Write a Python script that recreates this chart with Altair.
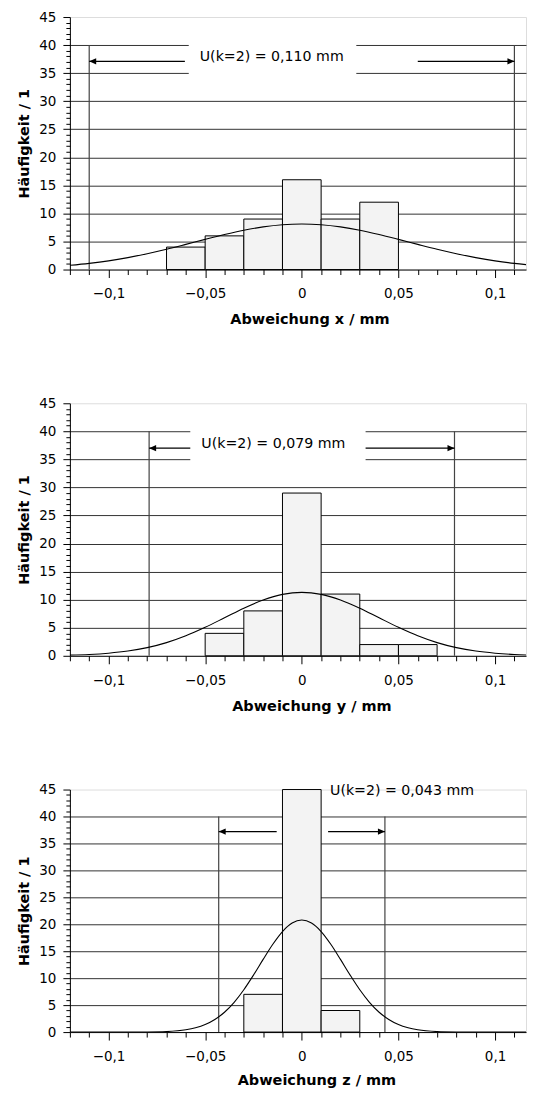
import altair as alt
import pandas as pd

# ---- data ----
bin_lo = [-0.07, -0.05, -0.03, -0.01, 0.01, 0.03, 0.05]
bin_hi = [-0.05, -0.03, -0.01, 0.01, 0.03, 0.05, 0.07]
counts_x = [4, 6, 9, 16, 9, 12, 0]
counts_y = [0, 4, 8, 29, 11, 2, 2]
counts_z = [0, 0, 7, 45, 4, 0, 0]

curve_pos = [-0.12, -0.11, -0.10, -0.09, -0.08, -0.07, -0.06, -0.05, -0.04, -0.03, -0.02, -0.01, 0.0,
             0.01, 0.02, 0.03, 0.04, 0.05, 0.06, 0.07, 0.08, 0.09, 0.10, 0.11, 0.12]
curve_x_vals = [0.75, 1.10, 1.55, 2.13, 2.82, 3.61, 4.48, 5.37, 6.23, 7.00, 7.60, 7.99, 8.12,
                7.99, 7.60, 7.00, 6.23, 5.37, 4.48, 3.61, 2.82, 2.13, 1.55, 1.10, 0.75]
curve_y_vals = [0.11, 0.23, 0.46, 0.84, 1.45, 2.35, 3.57, 5.08, 6.77, 8.48, 9.95, 10.95, 11.31,
                10.95, 9.95, 8.48, 6.77, 5.08, 3.57, 2.35, 1.45, 0.84, 0.46, 0.23, 0.11]
curve_z_pos = [-0.12, -0.11, -0.10, -0.09, -0.08, -0.07, -0.06, -0.055, -0.05, -0.045, -0.04, -0.035,
               -0.03, -0.025, -0.02, -0.015, -0.01, -0.005, 0.0, 0.005, 0.01, 0.015, 0.02, 0.025,
               0.03, 0.035, 0.04, 0.045, 0.05, 0.055, 0.06, 0.07, 0.08, 0.09, 0.10, 0.11, 0.12]
curve_z_vals = [0, 0, 0, 0, 0.02, 0.10, 0.42, 0.79, 1.39, 2.33, 3.68, 5.52, 7.85, 10.57, 13.48, 16.29,
                18.65, 20.22, 20.78, 20.22, 18.65, 16.29, 13.48, 10.57, 7.85, 5.52, 3.68, 2.33, 1.39,
                0.79, 0.42, 0.10, 0.02, 0, 0, 0, 0]

u_values = [0.110, 0.079, 0.043]
u_labels = ["U(k=2) = 0,110 mm", "U(k=2) = 0,079 mm", "U(k=2) = 0,043 mm"]
x_titles = ["Abweichung x / mm", "Abweichung y / mm", "Abweichung z / mm"]
y_title = "Häufigkeit / 1"

arrow_inner_left = [-0.0605, -0.0577, -0.013]
arrow_inner_right = [0.060, 0.033, 0.0136]
arrow_level = [37.1, 37.0, 37.2]
box_left = [-0.0585, -0.0577, None]
box_right = [0.0282, 0.033, None]
text_x = [-0.0528, -0.052, 0.0146]
text_y = [37.9, 37.7, 44.8]

x_ticks = [round(-0.12 + 0.01 * i, 2) for i in range(24)]
y_ticks = list(range(46))

FONT = "DejaVu Sans"
GRID = "#333333"
W = 457


def panel(i, counts, cpos, cvals, height, title_x, title_pad):
    xscale = alt.Scale(domain=[-0.12, 0.116], nice=False, zero=False)
    yscale = alt.Scale(domain=[0, 45], nice=False)
    xaxis = alt.Axis(
        values=x_ticks, grid=False, domainColor="black", tickColor="black",
        tickSize={"condition": {"test": "round(datum.value*100) % 5 == 0", "value": 8}, "value": 5},
        labelExpr="round(datum.value*100) % 5 == 0 ? replace(format(datum.value, '.2~f'), '.', ',') : ''",
        labelOverlap=False, labelFlush=False, labelFont=FONT, labelFontSize=13.5,
        labelColor="black", labelPadding=9.5, titleFont=FONT, titleFontSize=14.5,
        titleFontWeight="bold", titleColor="black", titlePadding=title_pad,
        titleX=title_x, titleAlign="center",
    )
    yaxis = alt.Axis(
        values=y_ticks, domainColor="black", tickColor="black",
        tickSize={"condition": {"test": "datum.value % 5 == 0", "value": 7}, "value": 4},
        labelExpr="datum.value % 5 == 0 ? datum.label : ''",
        labelOverlap=False, labelFont=FONT, labelFontSize=13.5, labelColor="black",
        labelPadding=7, grid=True, gridColor=GRID, gridWidth=1,
        gridOpacity={"condition": {"test": "datum.value % 5 == 0 && datum.value > 0 && datum.value < 45",
                                   "value": 1}, "value": 0},
        titleFont=FONT, titleFontSize=14.5, titleFontWeight="bold", titleColor="black",
        titlePadding=7,
    )

    def X(f):
        return alt.X(f, type="quantitative", scale=xscale, axis=xaxis, title=x_titles[i])

    def Y(f):
        return alt.Y(f, type="quantitative", scale=yscale, axis=yaxis, title=y_title)

    bars = pd.DataFrame({"lo": bin_lo, "hi": bin_hi, "n": counts})
    bars = bars[bars["n"] > 0]
    curve = pd.DataFrame({"x": cpos, "y": cvals})
    u = u_values[i]
    vl = pd.DataFrame({"x": [-u, u], "y0": [0, 0], "y1": [40, 40]})
    arr = pd.DataFrame({"a": [-u, arrow_inner_right[i]], "b": [arrow_inner_left[i], u],
                        "y": [arrow_level[i]] * 2})
    head_l = pd.DataFrame({"x": [-u], "y": [arrow_level[i]]})
    head_r = pd.DataFrame({"x": [u], "y": [arrow_level[i]]})
    txt = pd.DataFrame({"x": [text_x[i]], "y": [text_y[i]], "t": [u_labels[i]]})

    layers = []
    if box_left[i] is not None:
        box = pd.DataFrame({"a": [box_left[i]], "b": [box_right[i]], "y0": [33.2], "y1": [41.5]})
        layers.append(alt.Chart(box).mark_rect(color="white").encode(
            x=X("a"), x2="b", y=Y("y0"), y2="y1"))
    layers += [
        alt.Chart(vl).mark_rule(color="#444444", strokeWidth=1.2).encode(x=X("x"), y=Y("y0"), y2="y1"),
        alt.Chart(bars).mark_rect(fill="#f3f3f3", stroke="black", strokeWidth=1).encode(
            x=X("lo"), x2="hi", y=Y("n"), y2=alt.datum(0)),
        alt.Chart(curve).mark_line(color="black", strokeWidth=1.1, interpolate="monotone",
                                   clip=True).encode(x=X("x"), y=Y("y")),
        alt.Chart(arr).mark_rule(color="black", strokeWidth=1.3).encode(x=X("a"), x2="b", y=Y("y")),
        alt.Chart(head_l).mark_point(shape="M0,0L2,-0.9L2,0.9Z", size=49, filled=True,
                                     color="black", opacity=1, strokeWidth=0).encode(x=X("x"), y=Y("y")),
        alt.Chart(head_r).mark_point(shape="M0,0L-2,-0.9L-2,0.9Z", size=49, filled=True,
                                     color="black", opacity=1, strokeWidth=0).encode(x=X("x"), y=Y("y")),
        alt.Chart(txt).mark_text(align="left", baseline="middle", font=FONT, fontSize=14.2,
                                 color="black").encode(x=X("x"), y=Y("y"), text="t:N"),
    ]
    return alt.layer(*layers).properties(width=W, height=height)


p1 = panel(0, counts_x, curve_pos, curve_x_vals, 253, 240, 12.5)
p2 = panel(1, counts_y, curve_pos, curve_y_vals, 253, 242, 12.5)
p3 = panel(2, counts_z, curve_z_pos, curve_z_vals, 243, 247, 10.5)

chart = alt.vconcat(p1, p2, p3, spacing=68).properties(
    padding={"left": 8, "top": 0, "right": 0, "bottom": 0}
).configure_view(stroke=None).configure(background="white")

chart.save("out.html", embed_options={"renderer": "svg", "actions": False})
